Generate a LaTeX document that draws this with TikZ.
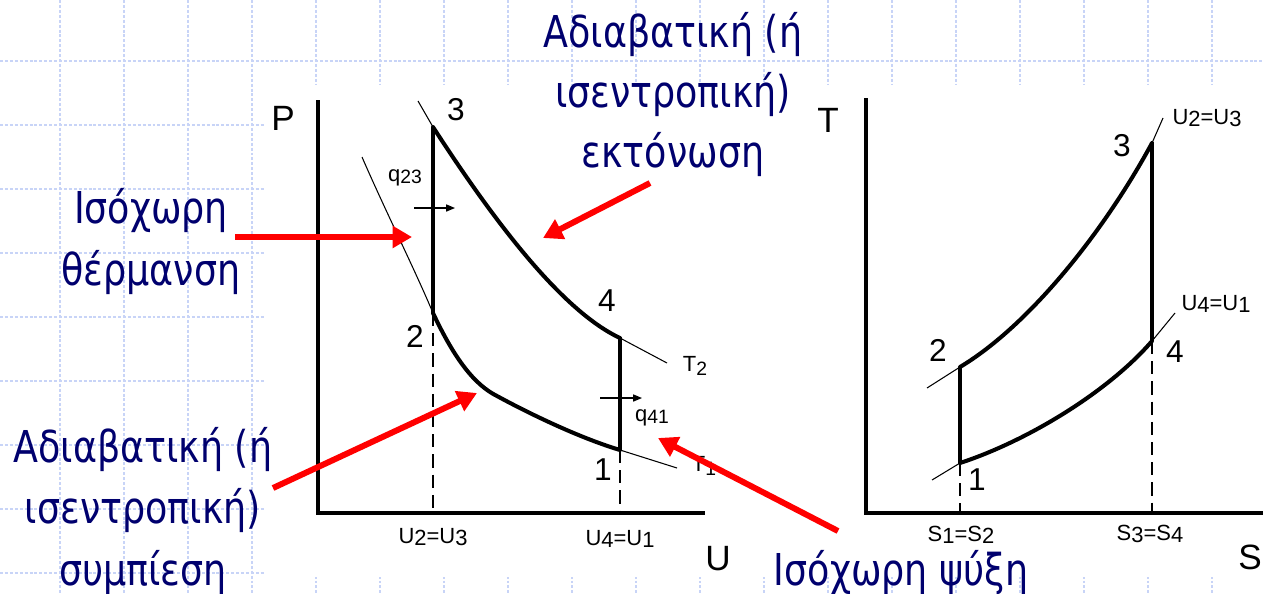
\documentclass[tikz,border=0pt]{standalone}
\usepackage{fontspec}
\setmainfont{Liberation Sans}
\newfontfamily\grk[FakeStretch=0.83]{DejaVu Sans}
\usetikzlibrary{arrows.meta}
\definecolor{navy}{RGB}{0,0,110}
\definecolor{gridblue}{RGB}{200,212,247}
\tikzset{
  gridl/.style={gridblue, line width=0.6pt, dash pattern=on 1.7pt off 1.1pt},
  thk/.style={line width=2.3pt, line join=round, line cap=round},
  vline/.style={line width=2.3pt},
  axisl/.style={line width=2.8pt, line join=miter},
  thinl/.style={line width=0.6pt},
  dashl/.style={line width=0.8pt, dash pattern=on 7.5pt off 4pt},
  redarrow/.style={red, line width=3.4pt, -{Triangle[length=11pt,width=12pt]}},
  qarrow/.style={line width=0.7pt, -{Triangle[length=5pt,width=4pt]}},
  greek/.style={navy, font=\grk\fontsize{25}{30}\selectfont, anchor=base, inner sep=0pt},
  num/.style={font=\fontsize{18}{18}\selectfont, inner sep=0pt},
  sublbl/.style={font=\fontsize{12.5}{13}\selectfont, inner sep=0pt},
  axlbl/.style={font=\fontsize{20}{20}\selectfont, inner sep=0pt},
}
\begin{document}
\begin{tikzpicture}[x=0.02cm, y=-0.02cm]
\useasboundingbox (0,0) rectangle (1263,593);
\clip (0,0) rectangle (1263,593);
% background grid
\foreach \i in {0,...,18} \draw[gridl] (60+64*\i,0) -- (60+64*\i,593);
\foreach \j in {0,...,8} \draw[gridl] (0,61+64*\j) -- (1263,61+64*\j);
\fill[white] (265,85) rectangle (1263,577);

% ---------- P-v diagram ----------
\coordinate (pO) at (318,513);
\coordinate (pTop) at (318,100);
\coordinate (pEnd) at (705,513);
\draw[axisl] (pTop) -- (pO) -- (pEnd);
\node[axlbl] (lP) at (283,118) {P};
\node[axlbl] (lU) at (718,559) {U};

\coordinate (v3) at (433,127);
\coordinate (v2) at (433,313);
\coordinate (v4) at (620,338);
\coordinate (v1) at (620,450);
\coordinate (v3e) at (418,101);
\coordinate (v2e) at (362,157);
\coordinate (t2e) at (667,363);
\coordinate (t1e) at (677,468);
\coordinate (v2b) at (433,513);
\coordinate (v1b) at (620,513);

\draw[thinl] (v3e) -- (v3);
\draw[thinl] (v2e) .. controls (385,210) and (415,270) .. (v2);
\draw[thinl] (v4) -- (t2e);
\draw[thinl] (v1) -- (t1e);
\draw[thk] (v3) .. controls (490,215) and (560,310) .. (v4);
\draw[thk] (v2) .. controls (455,360) and (475,385) .. (497,396) .. controls (530,414) and (580,438) .. (v1);
\draw[vline] (v2) -- (v3);
\draw[vline] (v4) -- (v1);
\draw[dashl] (v2) -- (v2b);
\draw[dashl] (v1) -- (v1b);

\node[num] (n3) at (456,110) {3};
\node[num] (n2) at (415,336) {2};
\node[num] (n4) at (607,301) {4};
\node[num] (n1) at (603,470) {1};
\node[sublbl] (lT2) at (695,366) {T\raisebox{-2pt}{\fontsize{11}{11}\selectfont 2}};
\node[sublbl] (lT1) at (704,466) {T\raisebox{-2pt}{\fontsize{11}{11}\selectfont 1}};
\node[sublbl] (q23) at (405,178) {q\raisebox{-1pt}{\fontsize{11}{11}\selectfont 23}};
\node[sublbl] (q41) at (652,418) {q\raisebox{-1pt}{\fontsize{11}{11}\selectfont 41}};
\coordinate (q23a) at (414,208);
\coordinate (q23b) at (455,208);
\coordinate (q41a) at (600,398);
\coordinate (q41b) at (642,398);
\draw[qarrow] (q23a) -- (q23b);
\draw[qarrow] (q41a) -- (q41b);
\node[sublbl] (lv23) at (433,537) {U\raisebox{-1pt}{2}=U\raisebox{-1pt}{3}};
\node[sublbl] (lv41) at (620,539) {U\raisebox{-1pt}{4}=U\raisebox{-1pt}{1}};

% ---------- T-s diagram ----------
\coordinate (sO) at (866,513);
\coordinate (sTop) at (866,98);
\coordinate (sEnd) at (1270,513);
\draw[axisl] (sTop) -- (sO) -- (sEnd);
\node[axlbl] (lT) at (828,120) {T};
\node[axlbl] (lS) at (1250,557) {S};

\coordinate (s2) at (960,367);
\coordinate (s1) at (960,463);
\coordinate (s3) at (1152,143);
\coordinate (s4) at (1152,341);
\coordinate (s2e) at (927,388);
\coordinate (s1e) at (932,480);
\coordinate (s3e) at (1163,118);
\coordinate (s4e) at (1175,313);
\coordinate (s1b) at (960,513);
\coordinate (s4b) at (1152,513);

\draw[thinl] (s2e) -- (s2);
\draw[thinl] (s1e) -- (s1);
\draw[thinl] (s3) -- (s3e);
\draw[thinl] (s4) -- (s4e);
\draw[thk] (s2) .. controls (1030,325) and (1105,230) .. (s3);
\draw[thk] (s1) .. controls (1030,440) and (1110,390) .. (s4);
\draw[vline] (s3) -- (s4);
\draw[vline] (s2) -- (s1);
\draw[dashl] (s1) -- (s1b);
\draw[dashl] (s4) -- (s4b);

\node[num] (m3) at (1122,146) {3};
\node[num] (m2) at (938,350) {2};
\node[num] (m4) at (1175,352) {4};
\node[num] (m1) at (977,480) {1};
\node[sublbl] (ls23) at (1207,118) {U\raisebox{-1pt}{2}=U\raisebox{-1pt}{3}};
\node[sublbl] (ls41) at (1216,304) {U\raisebox{-1pt}{4}=U\raisebox{-1pt}{1}};
\node[sublbl] (lsa) at (961,535) {S\raisebox{-1pt}{1}=S\raisebox{-1pt}{2}};
\node[sublbl] (lsb) at (1150,534) {S\raisebox{-1pt}{3}=S\raisebox{-1pt}{4}};

% ---------- Greek labels ----------
\node[greek] (a1) at (673,47) {Αδιαβατική (ή};
\node[greek] (a2) at (673,107) {ισεντροπική)};
\node[greek] (a3) at (673,167) {εκτόνωση};
\node[greek] (h1) at (151,223) {Ισόχωρη};
\node[greek] (h2) at (151,285) {θέρμανση};
\node[greek] (c1) at (143,462) {Αδιαβατική (ή};
\node[greek] (c2) at (143,523) {ισεντροπική)};
\node[greek] (c3) at (143,585) {συμπίεση};
\node[greek] (k1) at (901,585) {Ισόχωρη ψύξη};

% ---------- red arrows ----------
\coordinate (r1a) at (235,237);
\coordinate (r1b) at (412,237);
\coordinate (r2a) at (650,183);
\coordinate (r2b) at (543,238);
\coordinate (r3a) at (273,488);
\coordinate (r3b) at (477,393);
\coordinate (r4a) at (838,531);
\coordinate (r4b) at (658,438);
\draw[redarrow] (r1a) -- (r1b);
\draw[redarrow] (r2a) -- (r2b);
\draw[redarrow] (r3a) -- (r3b);
\draw[redarrow] (r4a) -- (r4b);
\end{tikzpicture}
\end{document}
